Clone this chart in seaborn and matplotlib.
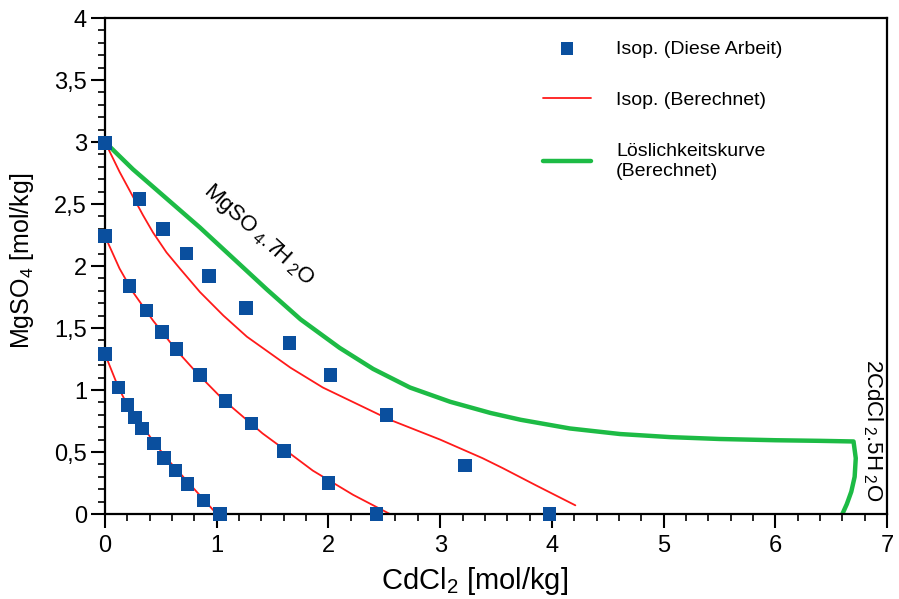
import numpy as np
import pandas as pd
import matplotlib
matplotlib.use("Agg")
import matplotlib.pyplot as plt
from matplotlib.ticker import MultipleLocator, FixedLocator, FixedFormatter
import seaborn as sns

# Isopiestic data points (this work)
iso1_x = [0, 0.12, 0.20, 0.27, 0.33, 0.44, 0.53, 0.63, 0.74, 0.88, 1.03]
iso1_y = [1.29, 1.02, 0.88, 0.78, 0.69, 0.57, 0.45, 0.35, 0.24, 0.11, 0.0]
iso2_x = [0, 0.22, 0.37, 0.51, 0.64, 0.85, 1.08, 1.31, 1.60, 2.00, 2.43]
iso2_y = [2.24, 1.84, 1.64, 1.47, 1.33, 1.12, 0.91, 0.73, 0.51, 0.25, 0.0]
iso3_x = [0, 0.31, 0.52, 0.73, 0.93, 1.26, 1.65, 2.02, 2.52, 3.22, 3.98]
iso3_y = [2.99, 2.54, 2.30, 2.10, 1.92, 1.66, 1.38, 1.12, 0.80, 0.39, 0.0]

# Calculated isopiestic lines
calc1_x = [0, 0.12, 0.20, 0.30, 0.43, 0.55, 0.65, 0.76, 0.88, 1.00]
calc1_y = [1.29, 1.02, 0.88, 0.75, 0.59, 0.45, 0.35, 0.24, 0.12, 0.0]
calc2_x = [0, 0.13, 0.25, 0.43, 0.64, 0.82, 1.06, 1.41, 1.66, 1.86, 2.22, 2.55]
calc2_y = [2.24, 1.98, 1.79, 1.56, 1.32, 1.14, 0.92, 0.65, 0.485, 0.35, 0.155, 0.0]
calc3_x = [0, 0.13, 0.25, 0.34, 0.43, 0.55, 0.67, 0.85, 1.06, 1.27, 1.66, 1.95,
           2.25, 2.55, 3.00, 3.38, 3.56, 3.86, 4.21]
calc3_y = [3.0, 2.76, 2.56, 2.41, 2.27, 2.11, 1.98, 1.79, 1.60, 1.43, 1.18, 1.02,
           0.89, 0.76, 0.60, 0.45, 0.37, 0.23, 0.07]

# Calculated solubility curve
sol_x = [0, 0.25, 0.55, 0.85, 1.15, 1.45, 1.75, 2.10, 2.40, 2.73, 3.09, 3.45,
         3.72, 4.16, 4.61, 5.06, 5.50, 6.00, 6.40, 6.70,
         6.72, 6.71, 6.68, 6.64, 6.60]
sol_y = [3.0, 2.78, 2.545, 2.31, 2.06, 1.81, 1.57, 1.34, 1.17, 1.02, 0.905, 0.815,
         0.76, 0.69, 0.645, 0.62, 0.605, 0.595, 0.59, 0.585,
         0.45, 0.30, 0.18, 0.08, 0.0]

x_ticks = [0, 1, 2, 3, 4, 5, 6, 7]
x_labels = ["0", "1", "2", "3", "4", "5", "6", "7"]
y_ticks = [0, 0.5, 1, 1.5, 2, 2.5, 3, 3.5, 4]
y_labels = ["0", "0,5", "1", "1,5", "2", "2,5", "3", "3,5", "4"]

pts = pd.DataFrame({"x": iso1_x + iso2_x + iso3_x, "y": iso1_y + iso2_y + iso3_y})

sns.set_style("ticks")
plt.rcParams["font.family"] = ["Liberation Sans", "DejaVu Sans"]
plt.rcParams["mathtext.fontset"] = "custom"
plt.rcParams["mathtext.rm"] = "Liberation Sans"
plt.rcParams["mathtext.it"] = "Liberation Sans"
plt.rcParams["text.color"] = "black"
plt.rcParams["axes.labelcolor"] = "black"
plt.rcParams["xtick.color"] = "black"
plt.rcParams["ytick.color"] = "black"

blue = "#0A4F9E"
red = "#FF1A1A"
green = "#1DBB45"

fig = plt.figure(figsize=(8.99, 5.99), dpi=100)
ax = fig.add_axes([0.1168, 0.1419, 0.8699, 0.828])

for i, (cx, cy) in enumerate([(calc1_x, calc1_y), (calc2_x, calc2_y), (calc3_x, calc3_y)]):
    sns.lineplot(x=cx, y=cy, sort=False, color=red, lw=1.3, ax=ax,
                 label="Isop. (Berechnet)" if i == 0 else None)
sns.lineplot(x=sol_x, y=sol_y, sort=False, color=green, lw=3.2, ax=ax,
             label="Löslichkeitskurve\n(Berechnet)")
sns.scatterplot(data=pts, x="x", y="y", marker="s", s=95, color=blue,
                edgecolor="none", ax=ax, clip_on=False, zorder=5,
                label="Isop. (Diese Arbeit)")

ax.set_xlim(0, 7)
ax.set_ylim(0, 4)
ax.xaxis.set_major_locator(FixedLocator(x_ticks))
ax.xaxis.set_major_formatter(FixedFormatter(x_labels))
ax.yaxis.set_major_locator(FixedLocator(y_ticks))
ax.yaxis.set_major_formatter(FixedFormatter(y_labels))
ax.xaxis.set_minor_locator(MultipleLocator(0.2))
ax.yaxis.set_minor_locator(MultipleLocator(0.1))
ax.tick_params(which="major", direction="out", length=10, width=1.5,
               labelsize=17, color="black", labelcolor="black")
ax.tick_params(which="minor", direction="out", length=5, width=1.2, color="black")
ax.tick_params(axis="x", which="major", pad=5)
ax.tick_params(axis="y", which="major", pad=3)
for sp in ax.spines.values():
    sp.set_visible(True)
    sp.set_linewidth(1.6)
    sp.set_color("black")

ax.set_xlabel(r"CdCl$_2$ [mol/kg]", fontsize=21)
ax.set_ylabel(r"MgSO$_4$ [mol/kg]", fontsize=18)
ax.xaxis.set_label_coords((475 - 105) / 782, -0.102)
ax.yaxis.set_label_coords(-0.088, 0.51)

ax.text(1.37, 2.25, r"MgSO$_{\ 4}$.7H$_{\ 2}$O", rotation=-42, fontsize=16,
        ha="center", va="center", rotation_mode="anchor", color="black")
ax.text(6.87, 0.68, r"2CdCl$_{\ 2}$.5H$_{\ 2}$O", rotation=-90, fontsize=16,
        ha="center", va="center", rotation_mode="anchor", color="black")

handles, labels = ax.get_legend_handles_labels()
order = [labels.index("Isop. (Diese Arbeit)"), labels.index("Isop. (Berechnet)"),
         labels.index("Löslichkeitskurve\n(Berechnet)")]
ax.legend([handles[i] for i in order], [labels[i] for i in order],
          loc="upper left", bbox_to_anchor=(543 / 899, 1 - 40 / 599),
          bbox_transform=fig.transFigure, frameon=False, fontsize=14,
          handlelength=2.45, handletextpad=1.3, labelspacing=1.75,
          borderpad=0, borderaxespad=0, markerscale=0.9, labelcolor="black")

fig.savefig("out.png", dpi=100)
